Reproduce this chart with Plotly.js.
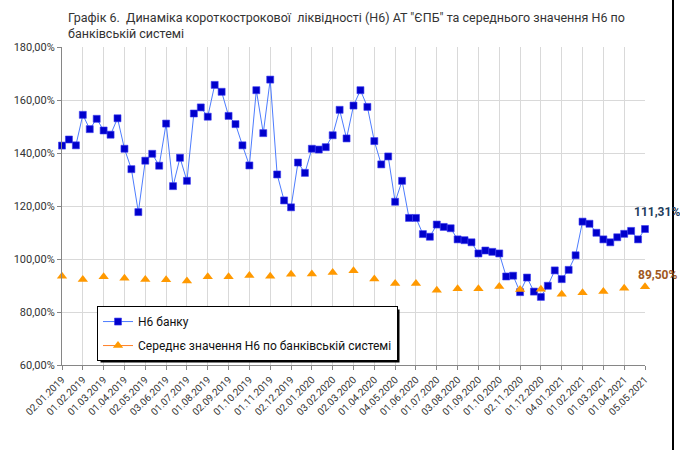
<!DOCTYPE html>
<html>
<head>
<meta charset="utf-8">
<script src="https://cdn.plot.ly/plotly-3.0.1.min.js"></script>
<style>html,body{margin:0;padding:0;background:#fff;}#chart{width:680px;height:450px;}</style>
</head>
<body>
<div id="chart"></div>
<script>
const dates = [
  "02.01.2019","11.01.2019","21.01.2019","01.02.2019","11.02.2019","21.02.2019","01.03.2019","11.03.2019","21.03.2019",
  "01.04.2019","11.04.2019","22.04.2019","02.05.2019","13.05.2019","21.05.2019","03.06.2019","11.06.2019","21.06.2019",
  "01.07.2019","11.07.2019","22.07.2019","01.08.2019","12.08.2019","21.08.2019","02.09.2019","11.09.2019","23.09.2019",
  "01.10.2019","11.10.2019","21.10.2019","01.11.2019","11.11.2019","21.11.2019","02.12.2019","11.12.2019","23.12.2019",
  "02.01.2020","13.01.2020","21.01.2020","03.02.2020","11.02.2020","21.02.2020","02.03.2020","11.03.2020","23.03.2020",
  "01.04.2020","13.04.2020","21.04.2020","04.05.2020","13.05.2020","21.05.2020","01.06.2020","11.06.2020","22.06.2020",
  "01.07.2020","13.07.2020","21.07.2020","03.08.2020","11.08.2020","21.08.2020","01.09.2020","11.09.2020","21.09.2020",
  "01.10.2020","12.10.2020","21.10.2020","02.11.2020","11.11.2020","23.11.2020","01.12.2020","11.12.2020","21.12.2020",
  "04.01.2021","11.01.2021","21.01.2021","01.02.2021","11.02.2021","22.02.2021","01.03.2021","11.03.2021","22.03.2021",
  "01.04.2021","12.04.2021","21.04.2021","05.05.2021"
];

const tickLabels = [
  "02.01.2019","01.02.2019","01.03.2019","01.04.2019","02.05.2019","03.06.2019","01.07.2019","01.08.2019","02.09.2019",
  "01.10.2019","01.11.2019","02.12.2019","02.01.2020","03.02.2020","02.03.2020","01.04.2020","04.05.2020","01.06.2020",
  "01.07.2020","03.08.2020","01.09.2020","01.10.2020","02.11.2020","01.12.2020","04.01.2021","01.02.2021","01.03.2021",
  "01.04.2021","05.05.2021"
];

const bankValues = [
  142.8,145.1,142.9,154.4,149.0,152.9,148.5,146.9,153.1,
  141.6,133.9,117.7,137.1,139.7,135.2,151.1,127.5,138.2,
  129.5,154.9,157.2,153.7,165.7,163.1,154.0,150.9,142.9,
  135.3,163.7,147.5,167.7,131.9,122.1,119.5,136.4,132.5,
  141.6,141.3,142.2,146.7,156.3,145.5,157.9,163.7,157.4,
  144.5,135.7,138.7,121.6,129.5,115.5,115.5,109.4,108.4,
  113.0,112.1,111.6,107.4,107.1,106.3,102.1,103.2,102.7,
  102.1,93.4,93.7,87.5,93.0,87.7,85.7,89.9,95.7,
  92.4,95.9,101.4,114.1,113.3,109.9,107.4,106.3,108.2,
  109.5,110.6,107.4,111.31
];

const avgValues = [
  93.5,92.3,93.3,92.7,92.3,92.2,91.7,93.3,93.3,
  93.8,93.5,94.2,94.3,94.9,95.6,92.5,90.8,90.8,
  88.2,88.8,88.8,89.6,88.5,88.6,86.7,87.3,87.7,
  89.0,89.50
];

const seriesNames = ["Н6 банку", "Середнє значення Н6 по банківській системі"];
const titleText = "Графік 6.  Динаміка короткострокової  ліквідності (Н6) АТ \"ЄПБ\" та середнього значення Н6 по<br>банківській системі";

const avgOnDates = dates.map(d => {
  const i = tickLabels.indexOf(d);
  return i >= 0 ? avgValues[i] : null;
});

const fmt = v => v.toFixed(2).replace(".", ",") + "%";
const FONT = "Roboto, 'Noto Sans', sans-serif";
const lastDate = dates[dates.length - 1];

const traces = [
  {
    type: "scatter", mode: "lines+markers", name: seriesNames[0], legendgroup: "a",
    x: dates, y: bankValues, cliponaxis: false,
    line: {color: "#4D7CFE", width: 1},
    marker: {symbol: "square", size: 7, color: "#0000CC", line: {color: "#3A3AF0", width: 0.6}}
  },
  {
    type: "scatter", mode: "lines+markers", name: seriesNames[1], legendgroup: "b",
    x: dates, y: avgOnDates, connectgaps: false, cliponaxis: false,
    line: {color: "#FF7F27", width: 1},
    marker: {symbol: "triangle-up", size: 9, color: "#FF9900", line: {width: 0}}
  }
];

const layout = {
  width: 680, height: 450,
  margin: {l: 62, r: 35, t: 47, b: 85, pad: 0},
  paper_bgcolor: "#fff", plot_bgcolor: "#fff",
  separators: ", ",
  font: {family: FONT, color: "#333"},
  title: {
    text: titleText, xref: "container", x: 68/680, xanchor: "left",
    yref: "container", y: 1 - 22/450, yanchor: "top",
    font: {family: FONT, size: 12.5, color: "#333"}
  },
  xaxis: {
    type: "category", categoryorder: "array", categoryarray: dates,
    range: [0, dates.length - 1], autorange: false,
    tickmode: "array", tickvals: tickLabels, ticktext: tickLabels,
    tickangle: -45, tickfont: {family: FONT, size: 10, color: "#333"},
    showgrid: true, gridcolor: "#d9d9d9", gridwidth: 1,
    showline: true, linecolor: "#868686", linewidth: 1,
    ticks: "outside", ticklen: 4, tickcolor: "#868686",
    zeroline: false, fixedrange: true
  },
  yaxis: {
    range: [60, 180], autorange: false, dtick: 20, tick0: 60,
    tickformat: ".2f", ticksuffix: "%",
    tickfont: {family: FONT, size: 11, color: "#333"},
    showgrid: true, gridcolor: "#d9d9d9", gridwidth: 1,
    showline: true, linecolor: "#868686", linewidth: 1,
    ticks: "outside", ticklen: 4, tickcolor: "#868686",
    zeroline: false, fixedrange: true
  },
  showlegend: true,
  legend: {
    x: (97 - 62) / 583, xanchor: "left", y: (365 - 306) / 318.3, yanchor: "top",
    bgcolor: "#fff", bordercolor: "#000", borderwidth: 1,
    font: {family: FONT, size: 12, color: "#111"},
    traceorder: "grouped", tracegroupgap: 5
  },
  annotations: [
    {x: lastDate, y: bankValues[bankValues.length - 1], xref: "x", yref: "y",
     text: "<b>" + fmt(bankValues[bankValues.length - 1]) + "</b>", showarrow: false,
     xanchor: "left", xshift: -13, yshift: 17,
     font: {family: FONT, size: 12, color: "#1F3D5C"}},
    {x: lastDate, y: avgValues[avgValues.length - 1], xref: "x", yref: "y",
     text: "<b>" + fmt(avgValues[avgValues.length - 1]) + "</b>", showarrow: false,
     xanchor: "left", xshift: -9, yshift: 12,
     font: {family: FONT, size: 12, color: "#A0581E"}}
  ],
  shapes: [
    {type: "line", xref: "paper", yref: "paper",
     x0: (673 - 62) / 583, x1: (673 - 62) / 583, y0: -85 / 318, y1: 1 + 47 / 318,
     line: {color: "#000", width: 2}, layer: "above"}
  ]
};

Plotly.newPlot("chart", traces, layout, {staticPlot: true, displayModeBar: false}).then(gd => {
  const bg = gd.querySelector(".legend .bg");
  if (!bg) return;
  const r = bg.getBoundingClientRect();
  const c = gd.getBoundingClientRect();
  const fl = gd._fullLayout;
  const pw = fl._size.w, ph = fl._size.h, pl = fl._size.l, pt = fl._size.t;
  const toX = px => (px - c.left - pl) / pw;
  const toY = py => 1 - (py - c.top - pt) / ph;
  const shadow = {type: "rect", xref: "paper", yref: "paper",
    x0: toX(r.left + 3), x1: toX(r.right + 2), y0: toY(r.bottom + 2), y1: toY(r.top + 3),
    fillcolor: "#000", line: {width: 0}, layer: "above"};
  Plotly.relayout(gd, {shapes: layout.shapes.concat([shadow])});
});
</script>
</body>
</html>
